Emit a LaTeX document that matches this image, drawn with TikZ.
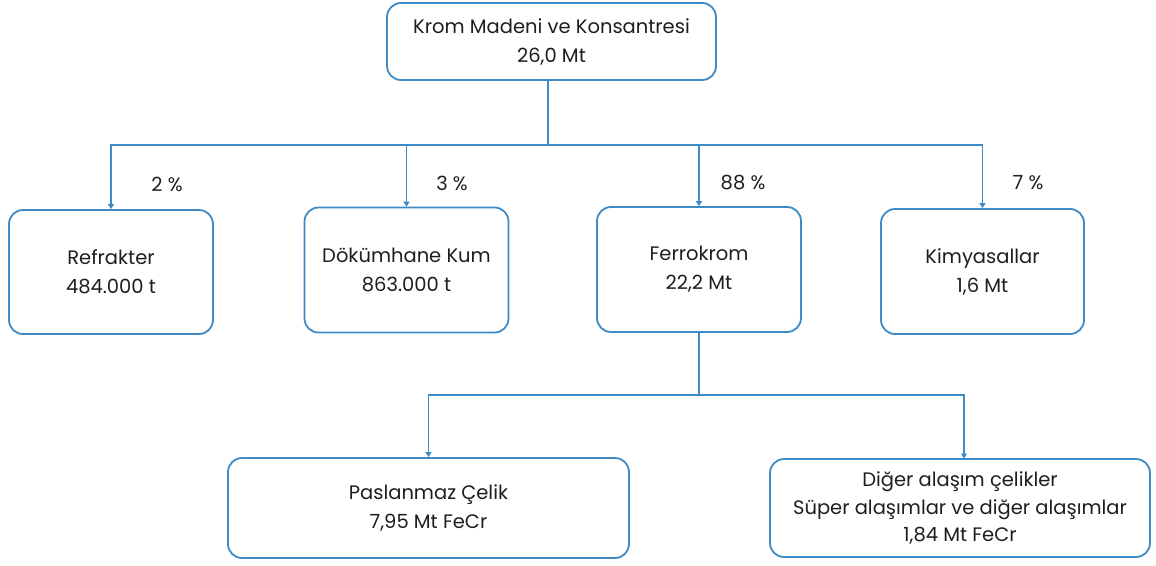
\documentclass[tikz,border=0pt]{standalone}
\usepackage{fontspec}
\setmainfont{Poppins}
\usetikzlibrary{arrows.meta}
\definecolor{lineblue}{RGB}{62,138,196}
\definecolor{txtgray}{RGB}{30,30,30}
\begin{document}
\begin{tikzpicture}[x=1pt,y=-1pt,
  box/.style={draw=lineblue,line width=1.8pt,rounded corners=14pt,fill=white,
    align=center,text=txtgray,font=\fontsize{19.5}{29}\selectfont,inner sep=0pt},
  conn/.style={draw=lineblue,line width=1.3pt},
  arr/.style={conn,-{Triangle[width=6pt,length=5pt]}},
  pct/.style={text=txtgray,font=\fontsize{19.5}{22}\selectfont,inner sep=0pt}]
\useasboundingbox (0,0) rectangle (1156,565);
\node[box,minimum width=329pt,minimum height=77pt] (top) at (551.5,41.5) {Krom Madeni ve Konsantresi\\26,0 Mt};
\node[box,minimum width=204pt,minimum height=124pt] (ref) at (111,272) {Refrakter\\484.000 t};
\node[box,minimum width=204pt,minimum height=125pt] (dok) at (406.5,270) {Dökümhane Kum\\863.000 t};
\node[box,minimum width=204pt,minimum height=125pt] (fer) at (699,269.5) {Ferrokrom\\22,2 Mt};
\node[box,minimum width=203pt,minimum height=125pt] (kim) at (982.5,271.5) {Kimyasallar\\1,6 Mt};
\node[box,minimum width=401pt,minimum height=100pt] (pas) at (428.5,508) {Paslanmaz Çelik\\7,95 Mt FeCr};
\node[box,minimum width=380pt,minimum height=98pt,font=\fontsize{19.5}{27.5}\selectfont] (dig) at (960,508) {Diğer alaşım çelikler\\Süper alaşımlar ve diğer alaşımlar\\1,84 Mt FeCr};
\coordinate (j1) at (548,145);
\coordinate (j2) at (699,395);
\draw[conn] (top.south -| j1) -- (j1);
\draw[arr] (j1) -| (ref.north);
\draw[arr] (j1) -| (dok.north);
\draw[arr] (j1) -| (fer.north);
\draw[arr] (j1) -| (kim.north);
\draw[conn] (fer.south) -- (j2);
\draw[arr] (j2) -| (pas.north);
\draw[arr] (j2) -| (964,458.5);
\node[pct] (p1) at (167,184) {2 \%};
\node[pct] (p2) at (452,183) {3 \%};
\node[pct] (p3) at (743,183) {88 \%};
\node[pct] (p4) at (1028,183) {7 \%};
\end{tikzpicture}
\end{document}
